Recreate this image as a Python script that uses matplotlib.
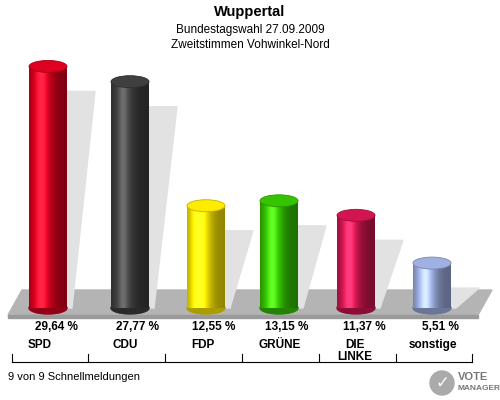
import numpy as np
import matplotlib
matplotlib.use("Agg")
import matplotlib.pyplot as plt
from matplotlib.patches import Polygon, Ellipse, Rectangle
from matplotlib.colors import to_rgb

parties = ["SPD", "CDU", "FDP", "GRÜNE", "DIE\nLINKE", "sonstige"]
values = [29.64, 27.77, 12.55, 13.15, 11.37, 5.51]
labels = ["29,64 %", "27,77 %", "12,55 %", "13,15 %", "11,37 %", "5,51 %"]
colors = ["#d4001e", "#3c3c3c", "#f2e000", "#33bb00", "#c8144c", "#98a8d8"]

fig = plt.figure(figsize=(5, 4), dpi=100)
ax = fig.add_axes([0, 0, 1, 1])
ax.set_xlim(0, 500); ax.set_ylim(400, 0); ax.axis("off")

fig.text(0.5, 1-12/400, "Wuppertal", ha="center", va="center", fontsize=10.5, fontweight="bold", family="Liberation Sans")
fig.text(0.5, 1-30/400, "Bundestagswahl 27.09.2009", ha="center", va="center", fontsize=8.5, family="Liberation Sans")
fig.text(0.5, 1-45/400, "Zweitstimmen Vohwinkel-Nord", ha="center", va="center", fontsize=8.5, family="Liberation Sans")

# floor
ax.add_patch(Polygon([(8, 315), (478, 315), (492, 290), (22, 290)], closed=True, color="#b4b4b4", zorder=1))
ax.add_patch(Polygon([(8, 315), (478, 315), (478, 318), (8, 318)], closed=True, color="#9a9a9a", zorder=1))

xs = [48, 130, 206, 279, 356, 432]
w = 38
base = 308
scale = 8.15
for x, v, c in zip(xs, values, colors):
    h = v * scale
    top = base - h
    ax.add_patch(Polygon([(x - w/2 + 5, base), (x + w/2 + 5, base),
                          (x + w/2 + 28, top + 25), (x - w/2 + 22, top + 25)],
                         closed=True, color="#e2e2e2", zorder=1.5))
    rgb = np.array(to_rgb(c))
    t = np.linspace(0, 1, 60)
    shade = 0.6 + 0.6 * np.exp(-((t - 0.32) / 0.3) ** 2)
    grad = np.clip(rgb[None, :] * shade[:, None] + 0.15 * np.exp(-((t - 0.32) / 0.12) ** 2)[:, None], 0, 1)
    img = np.tile(grad[None, :, :], (2, 1, 1))
    body = Rectangle((x - w/2, top), w, h, transform=ax.transData, facecolor="none", edgecolor="none")
    ax.add_patch(body)
    im = ax.imshow(img, extent=(x - w/2, x + w/2, base, top), aspect="auto", zorder=2, interpolation="bilinear")
    im.set_clip_path(body)
    ax.add_patch(Ellipse((x, base), w, 12, color=tuple(rgb * 0.7), zorder=1.9))
    ax.add_patch(Ellipse((x, top), w, 12, facecolor=tuple(np.clip(rgb * 1.05, 0, 1)), edgecolor=tuple(rgb * 0.8), lw=0.6, zorder=3))

name_x = [40, 125, 203, 280, 355, 433]
for x, nx, p, l in zip(xs, name_x, parties, labels):
    ax.text(x + 8, 327, l, ha="center", va="center", fontsize=8.5, fontweight="bold", family="Liberation Sans")
    ax.text(nx, 351 if "\n" in p else 345, p, ha="center", va="center",
            fontsize=8.5, fontweight="bold", family="Liberation Sans", linespacing=0.95)

ax.plot([12, 472], [362, 362], color="black", lw=0.8)
for xt in [12, 88, 165, 242, 319, 396, 472]:
    ax.plot([xt, xt], [354, 362], color="black", lw=0.8)

ax.text(8, 377, "9 von 9 Schnellmeldungen", ha="left", va="center", fontsize=8, family="Liberation Sans")
ax.text(458, 377, "VOTE", ha="left", va="center", fontsize=8, fontweight="bold", color="#777777", family="Liberation Sans")
ax.text(458, 389, "MANAGER", ha="left", va="center", fontsize=6, fontweight="bold", color="#777777", family="Liberation Sans")
ax.add_patch(Ellipse((442, 383), 24, 24, color="#aaaaaa", zorder=1))
ax.text(442, 383, "✓", ha="center", va="center", fontsize=12, color="white", fontweight="bold")

fig.savefig("out.png", dpi=100)
